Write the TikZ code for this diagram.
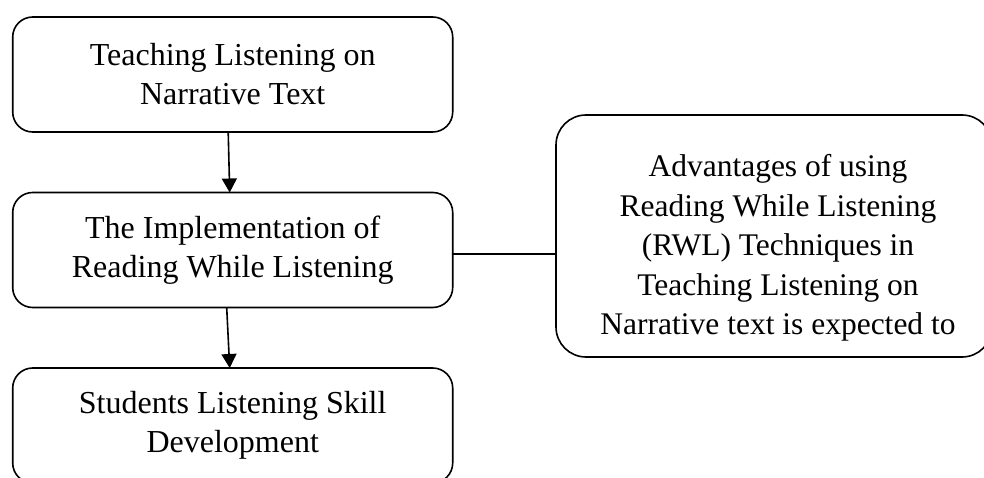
\documentclass[tikz,border=0pt]{standalone}
\usepackage{fontspec}
\setmainfont{Liberation Serif}
\usetikzlibrary{arrows.meta,calc}

\begin{document}
\begin{tikzpicture}[x=1pt,y=-1pt,
  flowbox/.style={draw=black, line width=1.6pt, rounded corners=20pt,
    minimum width=440pt, minimum height=115pt, inner sep=0pt, outer sep=0pt,
    align=center, font=\fontsize{32}{39}\selectfont},
  sidebox/.style={draw=black, line width=1.6pt, rounded corners=30pt,
    minimum width=436pt, minimum height=242pt, inner sep=0pt, outer sep=0pt},
  link/.style={draw=black, line width=1.6pt},
  flowarrow/.style={link, -{Triangle[width=15pt,length=14pt]}}
]
\useasboundingbox (0,0) rectangle (984,478);
\clip (0,0) rectangle (984,478);

% main column
\node[flowbox] (teach) at (232.7,74.5) {Teaching Listening on\\Narrative Text};
\node[flowbox] (impl)  at (232.7,250)  {The Implementation of\\Reading While Listening};
\node[flowbox] (skill) at (232.7,425.5) {Students Listening Skill\\Development};

% side box with the expected advantages
\node[sidebox, label={[align=center, xshift=4pt, yshift=-12pt,
    font=\fontsize{31.5}{39.5}\selectfont]center:Advantages of using\\Reading While Listening\\(RWL) Techniques in\\Teaching Listening on\\Narrative text is expected to}]
  (adv) at (774,236) {};

% connectors
\draw[flowarrow] ([xshift=-4.5pt]teach.south) -- ([xshift=-3pt]impl.north);
\draw[flowarrow] ([xshift=-6pt]impl.south) -- ([xshift=-3pt]skill.north);
\draw[link] ([yshift=-4pt]impl.east) -- ([yshift=-4pt]impl.east -| adv.west);
\end{tikzpicture}
\end{document}
